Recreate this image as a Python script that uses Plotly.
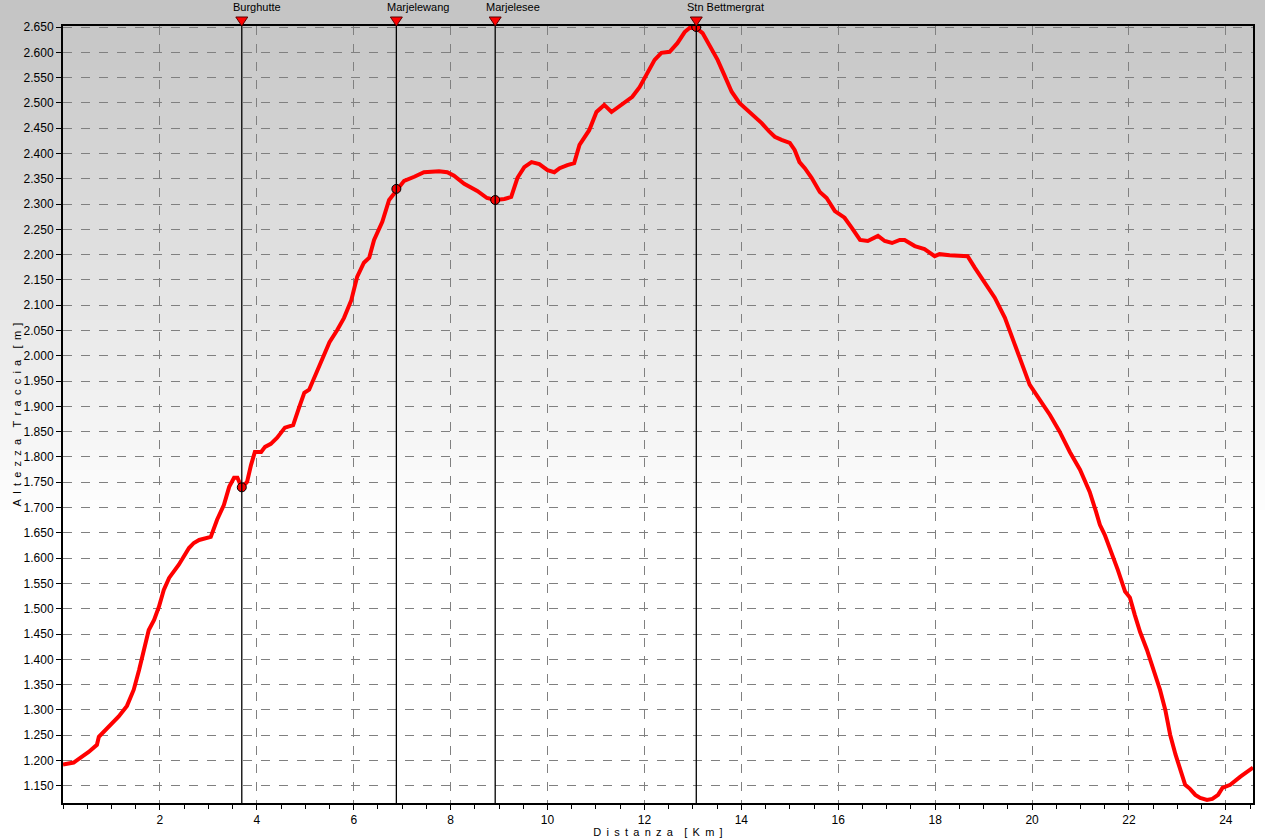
import plotly.graph_objects as go

# elevation profile, distance in km, altitude in m
distance_km = [
    0.00, 0.22, 0.53, 0.70, 0.74, 0.95, 1.15, 1.32, 1.46, 1.57, 1.67, 1.77, 1.88, 1.98,
    2.08, 2.19, 2.39, 2.60, 2.70, 2.81, 3.05, 3.18, 3.32, 3.43, 3.53, 3.60, 3.69, 3.80,
    3.88, 3.96, 4.09, 4.17, 4.29, 4.42, 4.58, 4.75, 4.87, 4.98, 5.08, 5.29, 5.50, 5.66,
    5.80, 5.95, 6.07, 6.21, 6.32, 6.42, 6.59, 6.73, 6.88, 7.04, 7.25, 7.45, 7.76, 7.93,
    8.07, 8.28, 8.55, 8.75, 8.92, 9.11, 9.25, 9.38, 9.52, 9.67, 9.83, 10.00, 10.14, 10.25,
    10.41, 10.55, 10.66, 10.86, 11.01, 11.17, 11.32, 11.44, 11.59, 11.75, 11.90, 12.06,
    12.21, 12.35, 12.52, 12.68, 12.83, 12.93, 13.07, 13.20, 13.34, 13.51, 13.65, 13.80,
    13.96, 14.13, 14.27, 14.42, 14.58, 14.69, 14.83, 15.00, 15.10, 15.20, 15.31, 15.45,
    15.62, 15.76, 15.93, 16.13, 16.28, 16.45, 16.61, 16.82, 16.96, 17.11, 17.27, 17.37,
    17.58, 17.78, 17.99, 18.09, 18.30, 18.51, 18.67, 18.82, 19.02, 19.23, 19.44, 19.64,
    19.79, 19.95, 20.16, 20.37, 20.57, 20.78, 20.99, 21.19, 21.32, 21.40, 21.50, 21.61,
    21.77, 21.92, 22.02, 22.12, 22.23, 22.37, 22.48, 22.64, 22.75, 22.85, 22.96, 23.06,
    23.16, 23.26, 23.37, 23.47, 23.61, 23.72, 23.84, 23.93, 24.09, 24.30, 24.46, 24.56,
]
altitude_m = [
    1192, 1196, 1217, 1231, 1247, 1267, 1287, 1308, 1340, 1379, 1419, 1458, 1478, 1504,
    1537, 1561, 1587, 1620, 1630, 1636, 1642, 1676, 1705, 1741, 1759, 1759, 1739, 1751,
    1784, 1810, 1810, 1820, 1826, 1838, 1858, 1863, 1897, 1927, 1933, 1978, 2027, 2051,
    2075, 2110, 2156, 2184, 2194, 2229, 2265, 2308, 2328, 2346, 2354, 2363, 2365, 2363,
    2356, 2340, 2326, 2312, 2308, 2310, 2314, 2352, 2373, 2383, 2379, 2367, 2363, 2371,
    2377, 2381, 2417, 2446, 2482, 2496, 2482, 2490, 2502, 2512, 2531, 2559,
    2585, 2599, 2601, 2618, 2640, 2648, 2648, 2638, 2614, 2585, 2555, 2522,
    2500, 2486, 2472, 2460, 2443, 2433, 2427, 2421, 2407, 2383, 2371, 2352,
    2324, 2312, 2286, 2273, 2253, 2229, 2227, 2237, 2227, 2223, 2229, 2229,
    2217, 2211, 2197, 2201, 2199, 2197, 2197, 2174, 2146, 2115, 2075, 2022,
    1982, 1943, 1913, 1883, 1850, 1810, 1775, 1731, 1692, 1666, 1646, 1620,
    1577, 1534, 1522, 1488, 1454, 1419, 1389, 1340, 1300, 1251, 1212, 1182,
    1152, 1144, 1132, 1126, 1122, 1124, 1132, 1146, 1152, 1168, 1178, 1186,
]

# waypoints
wp_names = ["Burghutte", "Marjelewang", "Marjelesee", "Stn Bettmergrat"]
wp_km = [3.69, 6.88, 8.92, 13.07]
wp_alt = [1740, 2330, 2308, 2650]

x_ticks = [2, 4, 6, 8, 10, 12, 14, 16, 18, 20, 22, 24]
y_range = [1116, 2652]
x_range = [0, 24.56]


def spaced(text):
    # wide letter spacing like the original axis captions
    gap = "\u00a0\u2009"
    return (gap + "\u00a0\u00a0").join(gap.join(word) for word in text.split(" "))


fig = go.Figure()

# grey-to-white background gradient behind everything
plot_top, plot_bottom, height = 26, 803, 838
plot_h = plot_bottom - plot_top
n_bands = 52
for i in range(n_bands):
    py0 = i * 10
    py1 = py0 + 11
    c = int(196 + (255 - 196) * i / (n_bands - 1))
    fig.add_shape(
        type="rect", xref="paper", yref="paper",
        x0=-0.1, x1=1.1,
        y0=(plot_bottom - py1) / plot_h, y1=(plot_bottom - py0) / plot_h,
        fillcolor=f"rgb({c},{c},{c})", line_width=0, layer="below",
    )

for name, km in zip(wp_names, wp_km):
    fig.add_shape(type="line", xref="x", yref="paper", x0=km, x1=km, y0=0, y1=1,
                  line=dict(color="black", width=1.3), layer="above")
    # red triangle sitting on the top frame
    fig.add_shape(type="path", xref="x", yref="paper",
                  xsizemode="pixel", ysizemode="pixel", xanchor=km, yanchor=1,
                  path="M -6,9 L 6,9 L 0,0 Z",
                  fillcolor="#ff0000", line=dict(color="#5a0000", width=1), layer="above")
    fig.add_annotation(x=km, y=1, xref="x", yref="paper", text=name, showarrow=False,
                       xanchor="left", yanchor="bottom", xshift=-11, yshift=11,
                       font=dict(size=11, color="black"))

fig.add_trace(go.Scatter(
    x=distance_km, y=altitude_m, mode="lines",
    line=dict(color="#ff0000", width=4), hoverinfo="x+y", showlegend=False,
))

fig.add_trace(go.Scatter(
    x=wp_km, y=wp_alt, mode="markers",
    marker=dict(color="#ff0000", size=9, line=dict(color="black", width=1)),
    showlegend=False,
))

axis_font = dict(family="Liberation Sans, Arial", size=12, color="black")

fig.update_xaxes(
    range=x_range, tickvals=x_ticks, ticks="outside", ticklen=5, tickcolor="black",
    minor=dict(dtick=0.5, tick0=0, ticks="outside", ticklen=4, tickcolor="black", showgrid=False),
    showline=True, linecolor="black", linewidth=2, mirror=True, automargin=False,
    showgrid=True, gridcolor="#808080", griddash="dash", gridwidth=1, zeroline=False,
    tickfont=axis_font,
    title=dict(text=spaced("Distanza [Km]"), font=dict(size=11, color="black"), standoff=2),
)
fig.update_yaxes(
    range=y_range, dtick=50, tick0=0, tickformat=",d", ticks="outside", ticklen=5,
    tickcolor="black", automargin=False,
    showline=True, linecolor="black", linewidth=2, mirror=True,
    showgrid=True, gridcolor="#808080", griddash="dash", gridwidth=1, zeroline=False,
    tickfont=axis_font,
    title=dict(text=spaced("Altezza Traccia [m]"), font=dict(size=11, color="black"),
               standoff=0),
)

fig.update_layout(
    width=1265, height=height,
    margin=dict(l=63, r=12, t=plot_top, b=height - plot_bottom, pad=0, autoexpand=False),
    paper_bgcolor="white", plot_bgcolor="rgba(0,0,0,0)",
    separators=",.",
    font=dict(family="Liberation Sans, Arial", color="black"),
    showlegend=False,
)

# drop the browser's default page margin so the figure sits at the window's corner
fig.write_html("out.html", config={"displayModeBar": False},
               post_script="document.body.style.margin='0';")
